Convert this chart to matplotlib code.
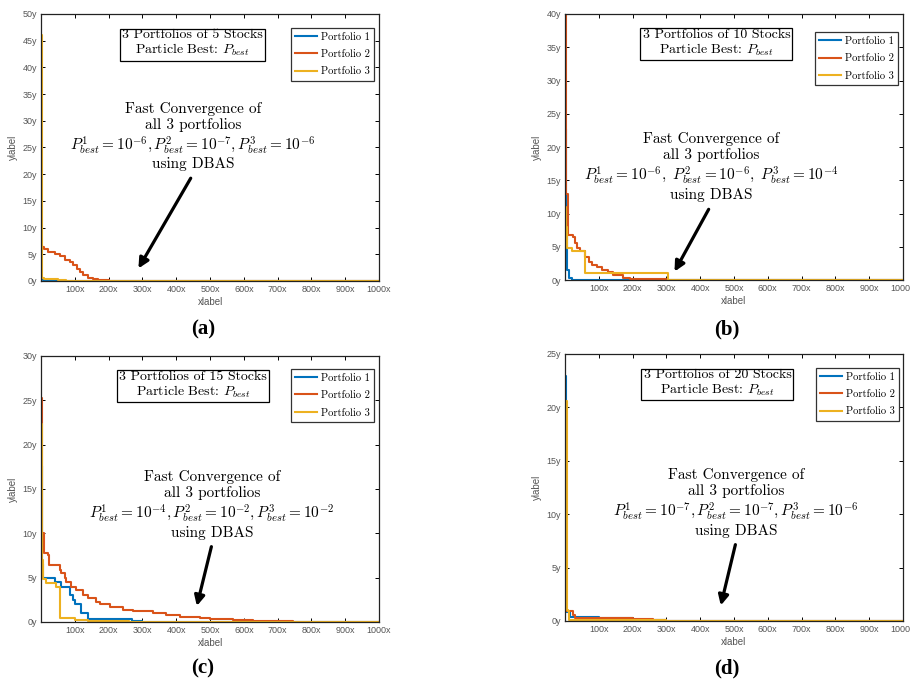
import matplotlib
matplotlib.use("Agg")
import matplotlib.pyplot as plt
from matplotlib.ticker import FixedLocator, FuncFormatter

# ======================================================
# 1. DATOS (leidos a ojo de la figura)
# ======================================================
panels = ["(a)", "(b)", "(c)", "(d)"]
n_stocks = [5, 10, 15, 20]
y_max = [50, 40, 30, 25]
p_best = [("-6", "-7", "-6"), ("-6", "-6", "-4"), ("-4", "-2", "-2"), ("-7", "-7", "-6")]
series_names = ["Portfolio 1", "Portfolio 2", "Portfolio 3"]

# (a) 5 stocks
a_p1_x = [1, 5, 20, 40, 1000]
a_p1_y = [0.3, 0.25, 0.15, 0.0, 0.0]
a_p2_x = [0, 1, 3, 10, 20, 40, 55, 70, 85, 95, 105, 115, 125, 140, 155, 170, 200, 1000]
a_p2_y = [28, 6.8, 6.4, 6.0, 5.4, 5.0, 4.6, 4.0, 3.5, 3.0, 2.3, 1.7, 1.1, 0.6, 0.3, 0.1, 0.0, 0.0]
a_p3_x = [0, 2, 10, 30, 50, 75, 1000]
a_p3_y = [46, 0.5, 0.45, 0.3, 0.15, 0.0, 0.0]

# (b) 10 stocks
b_p1_x = [1, 2, 4, 7, 13, 20, 200, 1000]
b_p1_y = [22.7, 14, 7, 1.5, 0.25, 0.05, 0.0, 0.0]
b_p2_x = [0, 3, 10, 25, 30, 34, 45, 60, 70, 80, 95, 110, 128, 143, 172, 192, 300, 1000]
b_p2_y = [40, 13, 6.8, 6.5, 5.5, 4.8, 4.3, 3.5, 2.7, 2.3, 2.0, 1.5, 1.25, 0.75, 0.25, 0.1, 0.0, 0.0]
b_p3_x = [0, 2, 5, 20, 60, 305, 1000]
b_p3_y = [11, 8, 4.8, 4.3, 1.0, 0.0, 0.0]

# (c) 15 stocks
c_p1_x = [2, 3, 5, 40, 60, 86, 94, 99, 118, 138, 270, 300, 1000]
c_p1_y = [17.5, 6.5, 5.0, 4.5, 4.0, 3.0, 2.5, 2.0, 1.0, 0.3, 0.1, 0.0, 0.0]
c_p2_x = [0, 3, 8, 20, 25, 55, 59, 70, 74, 89, 104, 124, 138, 163, 173, 203, 242, 272,
          331, 370, 410, 469, 499, 568, 627, 746, 1000]
c_p2_y = [25.3, 10, 7.8, 7.5, 6.4, 5.9, 5.5, 5.0, 4.5, 4.0, 3.6, 3.0, 2.7, 2.3, 2.0, 1.7, 1.4, 1.2,
          1.0, 0.8, 0.6, 0.4, 0.3, 0.2, 0.1, 0.05, 0.05]
c_p3_x = [0, 2, 5, 15, 45, 55, 100, 140, 260, 1000]
c_p3_y = [22.3, 7.0, 4.8, 4.4, 4.0, 0.4, 0.2, 0.1, 0.0, 0.0]

# (d) 20 stocks
d_p1_x = [1, 3, 15, 100, 200, 300, 1000]
d_p1_y = [22.9, 0.8, 0.4, 0.25, 0.1, 0.0, 0.0]
d_p2_x = [0, 2, 25, 30, 100, 200, 260, 300, 1000]
d_p2_y = [10, 0.9, 0.6, 0.3, 0.25, 0.15, 0.05, 0.0, 0.0]
d_p3_x = [0, 5, 10, 12, 300, 1000]
d_p3_y = [20.6, 1.0, 0.9, 0.05, 0.0, 0.0]

curves = [
    [(a_p1_x, a_p1_y), (a_p2_x, a_p2_y), (a_p3_x, a_p3_y)],
    [(b_p1_x, b_p1_y), (b_p2_x, b_p2_y), (b_p3_x, b_p3_y)],
    [(c_p1_x, c_p1_y), (c_p2_x, c_p2_y), (c_p3_x, c_p3_y)],
    [(d_p1_x, d_p1_y), (d_p2_x, d_p2_y), (d_p3_x, d_p3_y)],
]

# ======================================================
# 2. ESTILO
# ======================================================
plt.rcParams['mathtext.fontset'] = 'cm'
colors = ['#0072BD', '#D95319', '#EDB120']
serif = 'cmr10'
tick_color = '#555555'

# posiciones de los ejes en fraccion de figura [left, bottom, width, height]
ax_pos = [
    [0.0451, 0.5904, 0.3714, 0.3892],
    [0.6209, 0.5918, 0.3714, 0.3878],
    [0.0451, 0.0933, 0.3714, 0.3878],
    [0.6209, 0.0948, 0.3714, 0.3892],
]
box_xy = [(448, 44.4), (448, 35.6), (450, 26.7), (451, 22.2)]
note_xy = [(450, 27.0), (432, 17.0), (506, 13.2), (506, 11.05)]
arrow_tail = [(447, 19.7), (429, 11.0), (506, 8.8), (506, 7.4)]
arrow_head = [(284, 1.9), (320, 0.9), (459, 1.5), (459, 1.2)]
legend_anchor = [(0.985, 0.948), (0.985, 0.932), (0.985, 0.951), (0.988, 0.948)]
label_xy = [(203, 329), (727, 329), (203, 668), (727, 668)]

fig = plt.figure(figsize=(9.1, 6.86), dpi=100)

# ======================================================
# 3. DIBUJO DE LOS 4 PANELES
# ======================================================
for i in range(4):
    ax = fig.add_axes(ax_pos[i])
    for k in range(3):
        xs, ys = curves[i][k]
        ax.step(xs, ys, where='post', color=colors[k], lw=1.5, label=series_names[k])

    ax.set_xlim(0, 1000)
    ax.set_ylim(0, y_max[i])
    ax.xaxis.set_major_locator(FixedLocator(range(100, 1001, 100)))
    ax.yaxis.set_major_locator(FixedLocator(range(0, y_max[i] + 1, 5)))
    ax.xaxis.set_major_formatter(FuncFormatter(lambda v, p: f"{v:g}x"))
    ax.yaxis.set_major_formatter(FuncFormatter(lambda v, p: f"{v:g}y"))
    ax.tick_params(direction='in', top=True, right=True, length=3, width=0.7,
                   labelsize=6.5, labelcolor=tick_color, pad=3)
    for lab in ax.get_xticklabels() + ax.get_yticklabels():
        lab.set_family('Liberation Sans')
    for s in ax.spines.values():
        s.set_linewidth(0.9)
        s.set_color('#222222')
    ax.set_xlabel('xlabel', fontsize=7, color=tick_color, family='Liberation Sans', labelpad=2)
    ax.set_ylabel('ylabel', fontsize=7, color=tick_color, family='Liberation Sans', labelpad=3)

    # caja con el titulo
    ax.text(box_xy[i][0], box_xy[i][1],
            f"3 Portfolios of {n_stocks[i]} Stocks\nParticle Best: $P_{{best}}$",
            ha='center', va='center', family=serif, fontsize=10, linespacing=1.05,
            bbox=dict(boxstyle='square,pad=0.15', fc='white', ec='black', lw=0.9))

    # texto y flecha
    e1, e2, e3 = p_best[i]
    sep = ",\\ " if i == 1 else ","
    formula = (f"$P^1_{{best}} = 10^{{{e1}}}{sep}P^2_{{best}} = 10^{{{e2}}}{sep}"
               f"P^3_{{best}} = 10^{{{e3}}}$")
    ax.text(note_xy[i][0], note_xy[i][1],
            "Fast Convergence of\nall 3 portfolios\n" + formula + "\nusing DBAS",
            ha='center', va='center', multialignment='center', family=serif,
            fontsize=11, linespacing=1.14)
    ax.annotate('', xy=arrow_head[i], xytext=arrow_tail[i],
                arrowprops=dict(arrowstyle='-|>', lw=2.3, color='black', mutation_scale=15))

    leg = ax.legend(loc='upper right', bbox_to_anchor=legend_anchor[i],
                    prop={'family': serif, 'size': 7.6}, fancybox=False,
                    edgecolor='#333333', framealpha=1, handlelength=2.1,
                    borderpad=0.4, labelspacing=0.75, handletextpad=0.35,
                    borderaxespad=0)
    leg.get_frame().set_linewidth(0.9)

    fig.text(label_xy[i][0] / 910, 1 - label_xy[i][1] / 686, panels[i],
             ha='center', va='center', fontsize=15, fontweight='bold',
             family='Liberation Serif')

plt.savefig('out.png', dpi=100)
